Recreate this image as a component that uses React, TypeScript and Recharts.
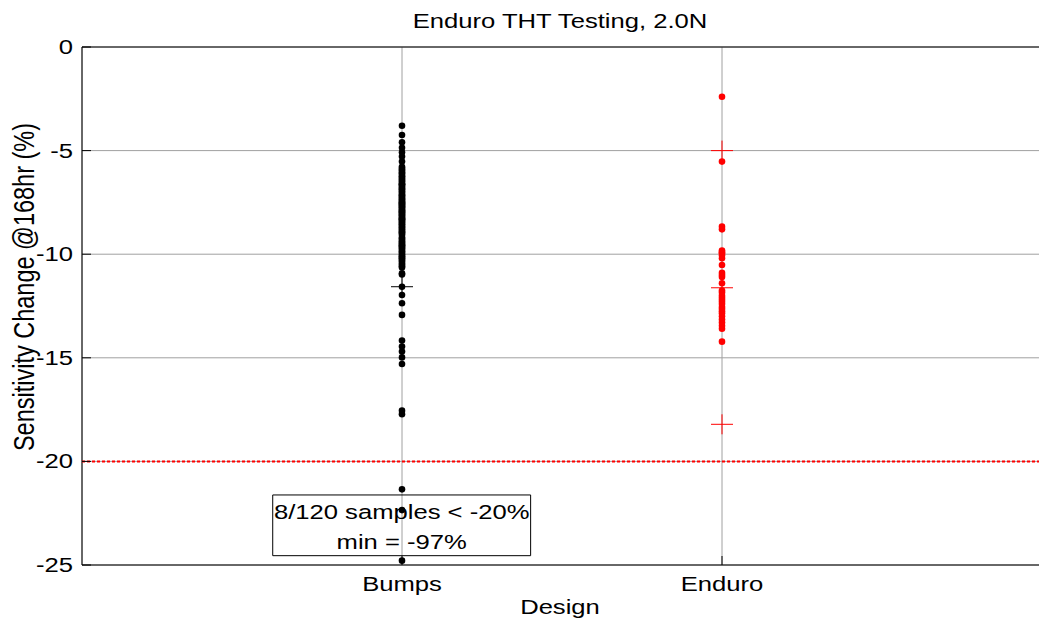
import {
  ScatterChart,
  Scatter,
  XAxis,
  YAxis,
  CartesianGrid,
  ReferenceLine,
  ReferenceArea,
  Customized,
} from "recharts";

// Sensitivity change after 168 hr, one value per sample (%)
const DESIGNS = ["Bumps", "Enduro"];

const BUMPS_CHANGE = [
  -3.8, -4.25, -4.6, -4.86, -5.08, -5.29, -5.53,
  -5.78, -5.84, -5.91, -5.97, -6.05, -6.09, -6.17, -6.24, -6.28, -6.35,
  -6.41, -6.47, -6.52, -6.6, -6.63, -6.71, -6.76, -6.83, -6.86, -6.94,
  -6.99, -7.04, -7.12, -7.15, -7.21, -7.27, -7.33, -7.36, -7.43, -7.48,
  -7.5, -7.56, -7.61, -7.66, -7.7, -7.74, -7.79, -7.85, -7.89, -7.93,
  -7.97, -8.01, -8.06, -8.11, -8.14, -8.2, -8.25, -8.29, -8.34, -8.4,
  -8.44, -8.49, -8.55, -8.59, -8.66, -8.7, -8.77, -8.81, -8.88, -8.93,
  -9.01, -9.07, -9.19, -9.25, -9.31, -9.38, -9.44, -9.49, -9.57, -9.62,
  -9.68, -9.73, -9.8, -9.86, -9.91, -9.99, -10.04, -10.11, -10.19, -10.23,
  -10.3, -10.37, -10.45, -10.52, -10.58, -10.64, -10.12, -9.55, -8.95, -7.58,
  -6.64, -8.31,
  -10.92, -10.98, -11.57, -11.97, -12.37, -12.93, -14.17, -14.46, -14.7,
  -14.98, -15.3, -17.55, -17.72,
  -21.35, -22.35, -24.79,
  // below the plotted range
  -26.4, -29.8, -38.5, -55.0, -97.0,
];

const ENDURO_CHANGE = [
  -2.4, -5.53, -8.67, -8.8, -9.82, -9.9, -9.95, -10.05, -10.2, -10.52,
  -10.9, -11.0, -11.1, -11.4, -11.75, -11.85, -12.0, -12.1, -12.2, -12.3,
  -12.4, -12.55, -12.65, -12.75, -12.85, -13.0, -13.15, -13.3, -13.45,
  -13.6, -14.22,
];

// mean / spread markers ("+")
const BUMPS_MARKS = [-11.57];
const ENDURO_MARKS = [-5.0, -11.62, -18.21];

const Y_TICKS = [-25, -20, -15, -10, -5, 0];
const X_TICKS = [1, 2];
const LIMIT = -20;

const FONT = '"Liberation Sans", Arial, Helvetica, sans-serif';
const STRETCH = 1.25;
const FS = 20.5;

const toPoints = (vals: number[], x: number) => vals.map((y) => ({ x, y }));

const belowLimit = BUMPS_CHANGE.filter((v) => v < LIMIT).length;
const bumpsMin = Math.min(...BUMPS_CHANGE);

function Txt({ x, y, anchor = "middle", rotate = false, size = FS, children }: any) {
  return (
    <text
      transform={`translate(${x},${y}) scale(${STRETCH},1)${rotate ? " rotate(-90)" : ""}`}
      textAnchor={anchor}
      dominantBaseline="central"
      fontFamily={FONT}
      fontSize={size}
      fill="#000"
    >
      {children}
    </text>
  );
}

function YTick({ x, y, payload }: any) {
  return (
    <g>
      <line x1={x} x2={x + 9} y1={y} y2={y} stroke="#000" />
      <Txt x={x - 9} y={y} anchor="end">
        {payload.value}
      </Txt>
    </g>
  );
}

function XTick({ x, y, payload }: any) {
  return (
    <g>
      <line x1={x} x2={x} y1={y} y2={y - 9} stroke="#000" />
      <Txt x={x} y={y + 19}>
        {DESIGNS[payload.value - 1]}
      </Txt>
    </g>
  );
}

const dot = (color: string) => (p: any) =>
  <circle cx={p.cx} cy={p.cy} r={3.3} fill={color} />;

const cross = (color: string) => (p: any) => (
  <g stroke={color} strokeWidth={1}>
    <line x1={p.cx - 11} x2={p.cx + 11} y1={p.cy} y2={p.cy} />
    <line x1={p.cx} x2={p.cx} y1={p.cy - 10} y2={p.cy + 10} />
  </g>
);

function NoteLabel({ viewBox }: any) {
  const cx = viewBox.x + viewBox.width / 2;
  return (
    <g>
      <Txt x={cx} y={viewBox.y + 16.5}>
        {`${belowLimit}/${BUMPS_CHANGE.length} samples < ${LIMIT}%`}
      </Txt>
      <Txt x={cx} y={viewBox.y + 46.5}>
        {`min = ${bumpsMin}%`}
      </Txt>
    </g>
  );
}

function Titles() {
  return (
    <g>
      <Txt x={560} y={21}>
        Enduro THT Testing, 2.0N
      </Txt>
      <Txt x={560} y={607}>
        Design
      </Txt>
      <Txt x={24} y={287} rotate size={23.5}>
        Sensitivity Change @168hr (%)
      </Txt>
    </g>
  );
}

export default function App() {
  return (
    <div
      style={{
        position: "absolute",
        left: 0,
        top: 0,
        width: 1039,
        height: 620,
        overflow: "hidden",
        background: "#fff",
      }}
    >
      <ScatterChart
        width={1050}
        height={620}
        margin={{ top: 47, right: 8, bottom: 0, left: 0 }}
      >
        <CartesianGrid stroke="#a0a0a0" />
        <XAxis
          type="number"
          dataKey="x"
          domain={[0, 3]}
          ticks={X_TICKS}
          height={55}
          axisLine={false}
          tickLine={false}
          tickSize={0}
          tickMargin={0}
          tick={<XTick />}
          allowDataOverflow
        />
        <YAxis
          type="number"
          dataKey="y"
          domain={[-25, 0]}
          ticks={Y_TICKS}
          width={82}
          axisLine={false}
          tickLine={false}
          tickSize={0}
          tickMargin={0}
          tick={<YTick />}
          allowDataOverflow
        />
        <ReferenceLine
          y={LIMIT}
          stroke="#ff0000"
          strokeWidth={2}
          strokeDasharray="3 2"
        />
        <ReferenceArea
          x1={0.596}
          x2={1.402}
          y1={-24.55}
          y2={-21.62}
          fill="none"
          fillOpacity={0}
          stroke="#000"
          strokeWidth={1}
          label={<NoteLabel />}
        />
        <ReferenceArea
          x1={0}
          x2={3}
          y1={-25}
          y2={0}
          fill="none"
          fillOpacity={0}
          stroke="#000"
          strokeWidth={1}
        />
        <Scatter
          data={toPoints(BUMPS_CHANGE, 1)}
          shape={dot("#000")}
          isAnimationActive={false}
        />
        <Scatter
          data={toPoints(ENDURO_CHANGE, 2)}
          shape={dot("#ff0000")}
          isAnimationActive={false}
        />
        <Scatter
          data={toPoints(BUMPS_MARKS, 1)}
          shape={cross("#000")}
          isAnimationActive={false}
        />
        <Scatter
          data={toPoints(ENDURO_MARKS, 2)}
          shape={cross("#ff0000")}
          isAnimationActive={false}
        />
        <Customized component={Titles} />
      </ScatterChart>
    </div>
  );
}
